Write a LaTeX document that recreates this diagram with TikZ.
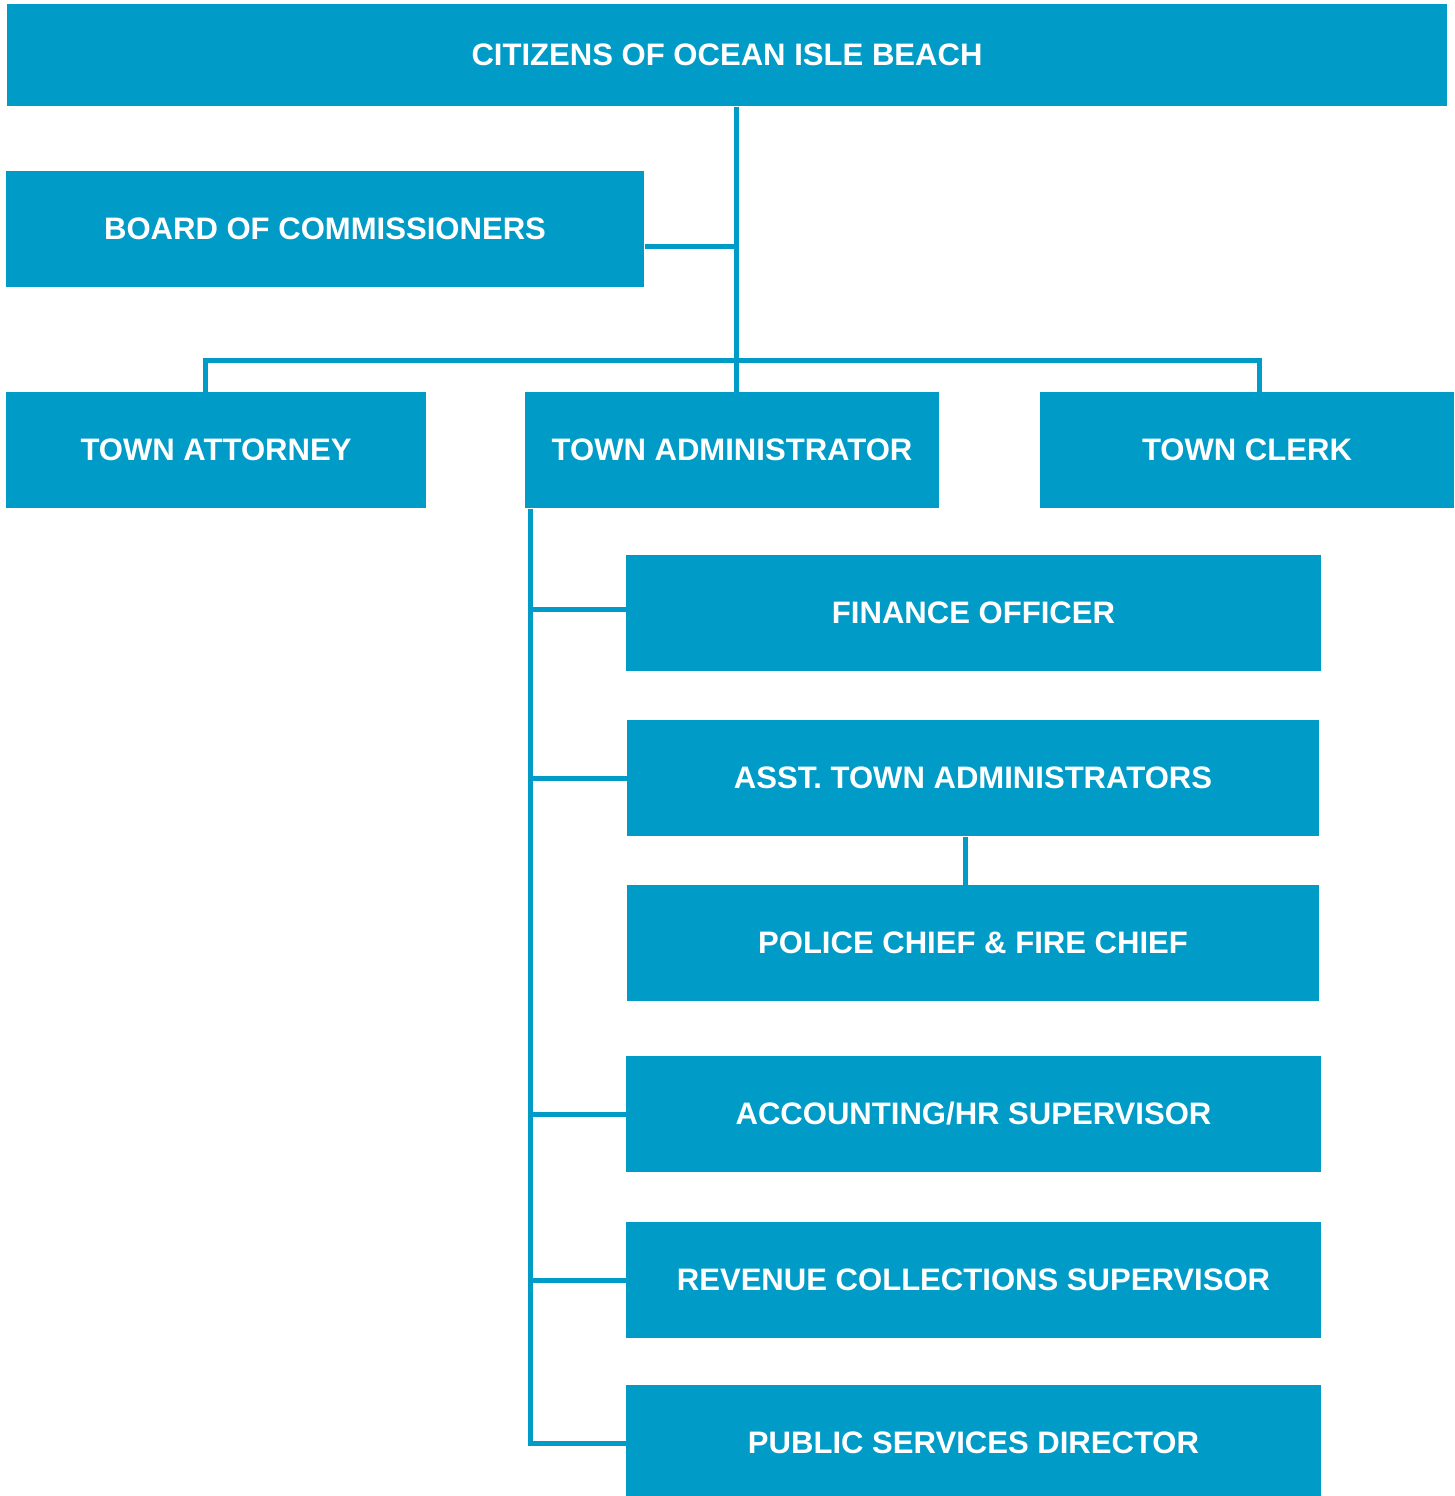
\documentclass[tikz,border=0pt]{standalone}
\usepackage{fontspec}
\setmainfont{Liberation Sans}
\definecolor{orgblue}{RGB}{0,155,199}
\tikzset{every picture/.style={line width=0.75pt}}
\tikzset{
  orgbox/.style={fill=orgblue, inner sep=0pt, text=white, font=\fontsize{23.3}{28}\selectfont\bfseries, minimum height=87pt},
  orgline/.style={draw=orgblue, line width=3.75pt}
}

\begin{document}
\begin{tikzpicture}[x=0.75pt,y=0.75pt,yscale=-1,xscale=1]
\useasboundingbox (0,0) rectangle (1454,1496);

%Box: top row
\node [orgbox, minimum width=1080pt, minimum height=76.5pt] (citizens) at (727,55) {CITIZENS OF OCEAN ISLE BEACH};
\node [orgbox, minimum width=478.5pt] (board) at (325,229) {BOARD OF COMMISSIONERS};
%Box: second row
\node [orgbox, minimum width=315pt] (attorney) at (216,450) {TOWN ATTORNEY};
\node [orgbox, minimum width=310.5pt] (admin) at (732,450) {TOWN ADMINISTRATOR};
\node [orgbox, minimum width=310.5pt] (clerk) at (1247,450) {TOWN CLERK};
%Box: staff column
\node [orgbox, minimum width=521.25pt] (finance) at (973.5,613) {FINANCE OFFICER};
\node [orgbox, minimum width=519pt] (asst) at (973,778) {ASST. TOWN ADMINISTRATORS};
\node [orgbox, minimum width=519pt] (police) at (973,943) {POLICE CHIEF \& FIRE CHIEF};
\node [orgbox, minimum width=521.25pt] (accounting) at (973.5,1114) {ACCOUNTING/HR SUPERVISOR};
\node [orgbox, minimum width=521.25pt] (revenue) at (973.5,1280) {REVENUE COLLECTIONS SUPERVISOR};
\node [orgbox, minimum width=521.25pt] (public) at (973.5,1443) {PUBLIC SERVICES DIRECTOR};

%Connector: citizens to second row
\coordinate (split) at (736,360);
\coordinate (trunk) at (530,508);
\draw [orgline] (citizens.south -| split) -- (admin.north -| split);
\draw [orgline] (board.east |- 0,246) -- (736,246);
\draw [orgline] (attorney.north -| 205,0) |- (split) -| (clerk.north -| 1259,0);

%Connector: administrator to staff
\draw [orgline] (admin.south -| trunk) |- (public.west);
\draw [orgline] (finance.west |- 0,609) -- (trunk |- 0,609);
\foreach \n in {asst,accounting,revenue}
  \draw [orgline] (\n.west) -- (\n.west -| trunk);
\draw [orgline] ([xshift=-6pt]asst.south) -- ([xshift=-6pt]police.north);

\end{tikzpicture}
\end{document}
